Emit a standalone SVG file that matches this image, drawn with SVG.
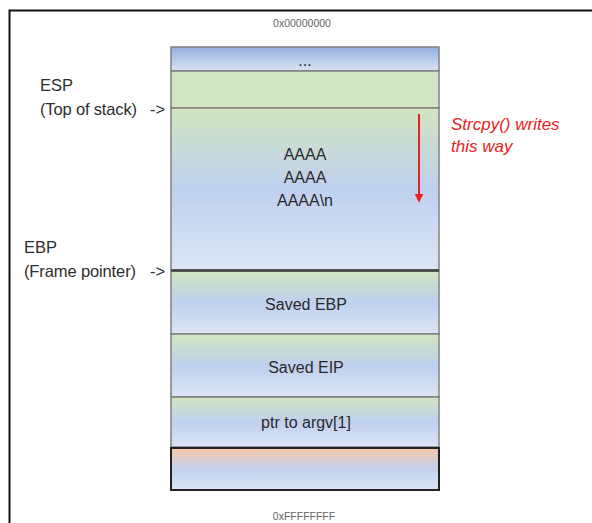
<svg xmlns="http://www.w3.org/2000/svg" width="592" height="523" viewBox="0 0 592 523">
<style>
.lbl{font-family:"Liberation Sans",Arial,sans-serif;font-size:16.5px;fill:#2e2e2e}
.cell{font-family:"Liberation Sans",Arial,sans-serif;font-size:16px;fill:#2a2a2a;text-anchor:middle}
.addr{font-family:"Liberation Sans",Arial,sans-serif;font-size:10.5px;fill:#666;text-anchor:middle}
.red{font-family:"Liberation Sans",Arial,sans-serif;font-size:17px;font-style:italic;fill:#ee2024}
</style>
<defs>
<linearGradient id="gb" x1="0" y1="0" x2="0" y2="1">
<stop offset="0" stop-color="#d2e5c0"/>
<stop offset="0.5" stop-color="#bfd0ee"/>
<stop offset="1" stop-color="#dce5f5"/>
</linearGradient>
<linearGradient id="bl" x1="0" y1="0" x2="0" y2="1">
<stop offset="0" stop-color="#94addf"/>
<stop offset="1" stop-color="#dbe4f5"/>
</linearGradient>
<linearGradient id="ob" x1="0" y1="0" x2="0" y2="1">
<stop offset="0" stop-color="#f8c7a6"/>
<stop offset="0.5" stop-color="#c2d1ee"/>
<stop offset="1" stop-color="#dce5f5"/>
</linearGradient>
<marker id="ah" viewBox="0 0 10 10" refX="8" refY="5" markerWidth="4.5" markerHeight="4.5" orient="auto">
<path d="M0,0 L10,5 L0,10 z" fill="#ee2024"/>
</marker>
</defs>
<rect width="592" height="523" fill="#fff"/>
<path d="M9.5,523 V10.5 H592" fill="none" stroke="#111" stroke-width="2"/>
<text class="addr" x="302" y="27">0x00000000</text>
<g id="row-dots">
<rect x="171" y="47" width="268" height="24" fill="url(#bl)" stroke="#808080" stroke-width="1.5"/>
<text class="cell" x="305" y="66" font-size="12">...</text>
</g>
<g id="row-green">
<rect x="171" y="71" width="268" height="37" fill="#d2e4c1" stroke="#808080" stroke-width="1.5"/>
</g>
<g id="row-buffer">
<rect x="171" y="108" width="268" height="162" fill="url(#gb)" stroke="#808080" stroke-width="1.5"/>
<text class="cell" x="305" y="160">AAAA</text>
<text class="cell" x="305" y="183">AAAA</text>
<text class="cell" x="305" y="206">AAAA\n</text>
</g>
<g id="row-ebp">
<rect x="171" y="271" width="268" height="63" fill="url(#gb)" stroke="#808080" stroke-width="1.5"/>
<text class="cell" x="306" y="310">Saved EBP</text>
</g>
<g id="row-eip">
<rect x="171" y="334" width="268" height="63" fill="url(#gb)" stroke="#808080" stroke-width="1.5"/>
<text class="cell" x="306" y="373">Saved EIP</text>
</g>
<g id="row-argv">
<rect x="171" y="397" width="268" height="50" fill="url(#gb)" stroke="#808080" stroke-width="1.5"/>
<text class="cell" x="306" y="428">ptr to argv[1]</text>
</g>
<g id="row-orange">
<rect x="171" y="448" width="268" height="42" fill="url(#ob)" stroke="#222" stroke-width="2"/>
</g>
<line x1="171" y1="270.5" x2="439" y2="270.5" stroke="#444" stroke-width="2.5"/>
<text class="addr" x="304" y="520">0xFFFFFFFF</text>
<g id="esp">
<text class="lbl" x="40" y="91">ESP</text>
<text class="lbl" x="40" y="115" textLength="97">(Top of stack)</text>
<text class="lbl" x="150" y="115">-&gt;</text>
</g>
<g id="ebp">
<text class="lbl" x="24" y="253">EBP</text>
<text class="lbl" x="24" y="277" textLength="112">(Frame pointer)</text>
<text class="lbl" x="150" y="277">-&gt;</text>
</g>
<g id="connectors">
<line x1="419" y1="114" x2="419" y2="201" stroke="#ee2024" stroke-width="2" marker-end="url(#ah)"/>
</g>
<g id="note">
<text class="red" x="451" y="130">Strcpy() writes</text>
<text class="red" x="451" y="152">this way</text>
</g>
</svg>
